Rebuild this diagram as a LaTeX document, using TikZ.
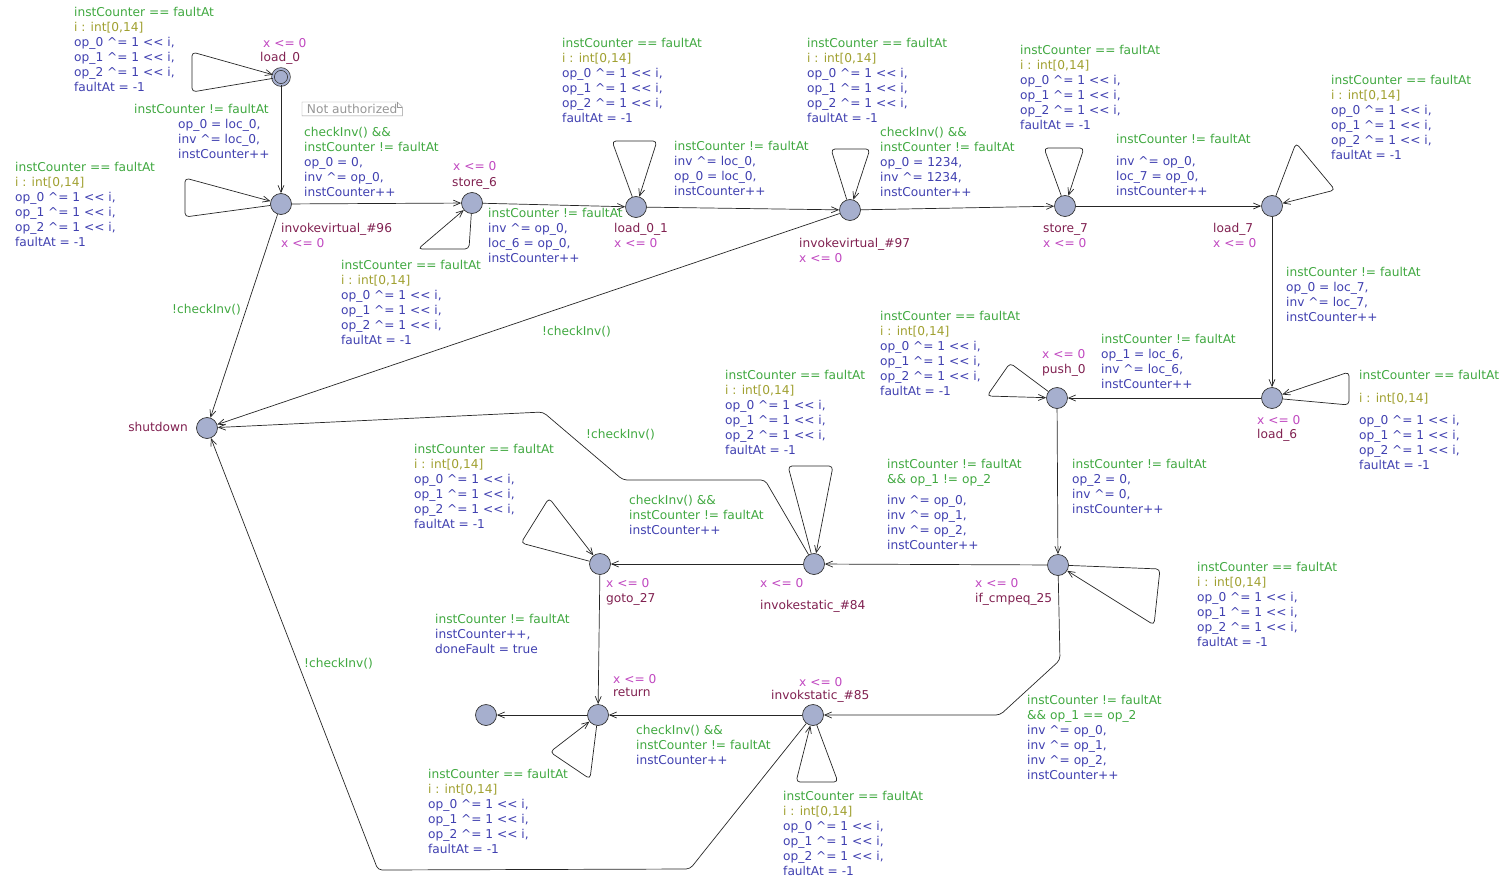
\documentclass[tikz,border=0pt]{standalone}
\usepackage{fontspec}
\setmainfont{DejaVu Sans}
\usetikzlibrary{arrows.meta}
\definecolor{grd}{RGB}{64,168,64}
\definecolor{sel}{RGB}{160,160,48}
\definecolor{upd}{RGB}{64,64,176}
\definecolor{nme}{RGB}{128,32,80}
\definecolor{invc}{RGB}{192,72,192}
\definecolor{locfill}{RGB}{166,175,206}
\definecolor{notegray}{RGB}{150,150,150}
\newcommand{\gd}[1]{\textcolor{grd}{#1}}
\newcommand{\up}[1]{\textcolor{upd}{#1}}
\newcommand{\xo}{\textasciicircum=}
\newcommand{\shl}{<\kern0pt<}
\newcommand{\xlim}{x <= 0}
\newcommand{\injlines}{\gd{instCounter == faultAt}\\\textcolor{sel}{i : int[0,14]}\\%
  \up{op\_0 \xo{} 1 \shl{} i,}\\\up{op\_1 \xo{} 1 \shl{} i,}\\\up{op\_2 \xo{} 1 \shl{} i,}\\\up{faultAt = -1}}
\begin{document}
\begin{tikzpicture}[x=1pt,y=-1pt,
    loc/.style={circle,draw=black!80,fill=locfill,minimum size=21pt,inner sep=0pt,line width=0.7pt},
    initloc/.style={loc,double=locfill,double distance=2pt,minimum size=16pt},
    lbl/.style={inner sep=0pt,anchor=north west,align=left,font=\fontsize{12.2}{15}\selectfont},
    lname/.style={lbl,text=nme},
    linv/.style={lbl,text=invc},
    edge/.style={draw=black!85,line width=0.7pt,rounded corners=4pt,
      -{Straight Barb[length=7pt,width=6pt]}}]
  \useasboundingbox (0,0) rectangle (1510,883);
  % locations
  \node[initloc] (load0) at (281,77) {};
  \node[loc] (inv96) at (281,204) {};
  \node[loc] (store6) at (472,203) {};
  \node[loc] (load01) at (636,207) {};
  \node[loc] (inv97) at (850,210) {};
  \node[loc] (store7) at (1065,206) {};
  \node[loc] (load7) at (1272,206) {};
  \node[loc] (load6) at (1272,398) {};
  \node[loc] (push0) at (1057,398) {};
  \node[loc] (ifcmp) at (1058,565) {};
  \node[loc] (inv84) at (814,564) {};
  \node[loc] (goto27) at (600,564) {};
  \node[loc] (ret) at (598,715) {};
  \node[loc] (fin) at (486,715) {};
  \node[loc] (inv85) at (813,715) {};
  \node[loc] (shutdown) at (207,428) {};
  % names and invariants
  \node[linv] (i-load0) at (263,38) {\xlim};
  \node[lname] (n-load0) at (260,52) {load\_0};
  \node[lname] (n-inv96) at (281,223) {invokevirtual\_\#96};
  \node[linv] (i-inv96) at (281,238) {\xlim};
  \node[linv] (i-store6) at (453,161) {\xlim};
  \node[lname] (n-store6) at (452,177) {store\_6};
  \node[lname] (n-load01) at (614,223) {load\_0\_1};
  \node[linv] (i-load01) at (614,238) {\xlim};
  \node[lname] (n-inv97) at (799,238) {invokevirtual\_\#97};
  \node[linv] (i-inv97) at (799,253) {\xlim};
  \node[lname] (n-store7) at (1043,223) {store\_7};
  \node[linv] (i-store7) at (1043,238) {\xlim};
  \node[lname] (n-load7) at (1213,223) {load\_7};
  \node[linv] (i-load7) at (1213,238) {\xlim};
  \node[linv] (i-load6) at (1257,415) {\xlim};
  \node[lname] (n-load6) at (1257,429) {load\_6};
  \node[linv] (i-push0) at (1042,349) {\xlim};
  \node[lname] (n-push0) at (1042,364) {push\_0};
  \node[linv] (i-ifcmp) at (975,578) {\xlim};
  \node[lname] (n-ifcmp) at (975,593) {if\_cmpeq\_25};
  \node[linv] (i-inv84) at (760,578) {\xlim};
  \node[lname] (n-inv84) at (760,600) {invokestatic\_\#84};
  \node[linv] (i-goto27) at (606,578) {\xlim};
  \node[lname] (n-goto27) at (606,593) {goto\_27};
  \node[linv] (i-ret) at (613,674) {\xlim};
  \node[lname] (n-ret) at (613,688) {return};
  \node[linv] (i-inv85) at (799,677) {\xlim};
  \node[lname] (n-inv85) at (771,690) {invokstatic\_\#85};
  \node[lname,anchor=north east] (n-shutdown) at (188,422) {shutdown};
  % note
  \node[lbl,text=notegray,inner xsep=2pt,inner ysep=2pt,minimum width=100pt] (note) at (302,102) {Not authorized};
  \draw[notegray] (note.south west) -- (note.south east) -- ([yshift=-5pt]note.north east)
    -- ([xshift=-5pt]note.north east) -- (note.north west) -- cycle;
  \draw[notegray] ([xshift=-5pt]note.north east) |- ([yshift=-5pt]note.north east);
  % fault injection loops
  \draw[edge] (load0) -- (192,92) -- (192,52) -- (load0);
  \draw[edge] (inv96) -- (185,217) -- (185,178) -- (inv96);
  \draw[edge] (store6) -- (469,249) -- (418,249) -- (store6);
  \draw[edge] (load01) -- (612,141) -- (657,141) -- (load01);
  \draw[edge] (inv97) -- (831,149) -- (870,149) -- (inv97);
  \draw[edge] (store7) -- (1044,148) -- (1084,148) -- (store7);
  \draw[edge] (load7) -- (1296,143) -- (1335,190) -- (load7);
  \draw[edge] (load6) -- (1349,405) -- (1349,372) -- (load6);
  \draw[edge] (push0) -- (1010,363) -- (987,396) -- (push0);
  \draw[edge] (inv84) -- (788,466) -- (833,466) -- (inv84);
  \draw[edge] (goto27) -- (521,543) -- (549,498) -- (goto27);
  \draw[edge] (ifcmp) -- (1160,569) -- (1154,625) -- (ifcmp);
  \draw[edge] (ret) -- (590,779) -- (550,752) -- (ret);
  \draw[edge] (inv85) -- (838,782) -- (796,782) -- (inv85);
  \node[lbl] (lp-load0) at (74,7) {\injlines};
  \node[lbl] (lp-inv96) at (15,162) {\injlines};
  \node[lbl] (lp-store6) at (341,260) {\injlines};
  \node[lbl] (lp-load01) at (562,38) {\injlines};
  \node[lbl] (lp-inv97) at (807,38) {\injlines};
  \node[lbl] (lp-store7) at (1020,45) {\injlines};
  \node[lbl] (lp-load7) at (1331,75) {\injlines};
  \node[lbl] (lp-load6) at (1359,370) {\gd{instCounter == faultAt}\\[8pt]\textcolor{sel}{i : int[0,14]}\\[7pt]%
    \up{op\_0 \xo{} 1 \shl{} i,}\\\up{op\_1 \xo{} 1 \shl{} i,}\\\up{op\_2 \xo{} 1 \shl{} i,}\\\up{faultAt = -1}};
  \node[lbl] (lp-push0) at (880,311) {\injlines};
  \node[lbl] (lp-inv84) at (725,370) {\injlines};
  \node[lbl] (lp-goto27) at (414,444) {\injlines};
  \node[lbl] (lp-ifcmp) at (1197,562) {\injlines};
  \node[lbl] (lp-ret) at (428,769) {\injlines};
  \node[lbl] (lp-inv85) at (783,791) {\injlines};
  % program transitions
  \draw[edge] (load0) -- (inv96);
  \node[lbl,text=grd] (g-load0) at (134,104) {instCounter != faultAt};
  \node[lbl,text=upd] (u-load0) at (178,119) {op\_0 = loc\_0,\\inv \xo{} loc\_0,\\instCounter++};
  \draw[edge] (inv96) -- (store6);
  \node[lbl] (t-inv96) at (304,127) {\gd{checkInv() \&\&}\\\gd{instCounter != faultAt}\\%
    \up{op\_0 = 0,}\\\up{inv \xo{} op\_0,}\\\up{instCounter++}};
  \draw[edge] (store6) -- (load01);
  \node[lbl] (t-store6) at (488,208) {\gd{instCounter != faultAt}\\\up{inv \xo{} op\_0,}\\%
    \up{loc\_6 = op\_0,}\\\up{instCounter++}};
  \draw[edge] (load01) -- (inv97);
  \node[lbl] (t-load01) at (674,141) {\gd{instCounter != faultAt}\\\up{inv \xo{} loc\_0,}\\%
    \up{op\_0 = loc\_0,}\\\up{instCounter++}};
  \draw[edge] (inv97) -- (store7);
  \node[lbl] (t-inv97) at (880,127) {\gd{checkInv() \&\&}\\\gd{instCounter != faultAt}\\%
    \up{op\_0 = 1234,}\\\up{inv \xo{} 1234,}\\\up{instCounter++}};
  \draw[edge] (store7) -- (load7);
  \node[lbl] (t-store7) at (1116,134) {\gd{instCounter != faultAt}\\[7pt]\up{inv \xo{} op\_0,}\\%
    \up{loc\_7 = op\_0,}\\\up{instCounter++}};
  \draw[edge] (load7) -- (load6);
  \node[lbl] (t-load7) at (1286,267) {\gd{instCounter != faultAt}\\\up{op\_0 = loc\_7,}\\%
    \up{inv \xo{} loc\_7,}\\\up{instCounter++}};
  \draw[edge] (load6) -- (push0);
  \node[lbl] (t-load6) at (1101,334) {\gd{instCounter != faultAt}\\\up{op\_1 = loc\_6,}\\%
    \up{inv \xo{} loc\_6,}\\\up{instCounter++}};
  \draw[edge] (push0) -- (ifcmp);
  \node[lbl] (t-push0) at (1072,459) {\gd{instCounter != faultAt}\\\up{op\_2 = 0,}\\%
    \up{inv \xo{} 0,}\\\up{instCounter++}};
  \draw[edge] (ifcmp) -- (inv84);
  \node[lbl] (t-ifne) at (887,459) {\gd{instCounter != faultAt}\\\gd{\&\& op\_1 != op\_2}\\[6pt]%
    \up{inv \xo{} op\_0,}\\\up{inv \xo{} op\_1,}\\\up{inv \xo{} op\_2,}\\\up{instCounter++}};
  \draw[edge] (ifcmp) -- (1060,660) -- (1000,715) -- (inv85);
  \node[lbl] (t-ifeq) at (1027,695) {\gd{instCounter != faultAt}\\\gd{\&\& op\_1 == op\_2}\\%
    \up{inv \xo{} op\_0,}\\\up{inv \xo{} op\_1,}\\\up{inv \xo{} op\_2,}\\\up{instCounter++}};
  \draw[edge] (inv84) -- (goto27);
  \node[lbl] (t-inv84) at (629,495) {\gd{checkInv() \&\&}\\\gd{instCounter != faultAt}\\\up{instCounter++}};
  \draw[edge] (goto27) -- (ret);
  \node[lbl] (t-goto27) at (435,614) {\gd{instCounter != faultAt}\\\up{instCounter++,}\\\up{doneFault = true}};
  \draw[edge] (inv85) -- (ret);
  \node[lbl] (t-inv85) at (636,725) {\gd{checkInv() \&\&}\\\gd{instCounter != faultAt}\\\up{instCounter++}};
  \draw[edge] (ret) -- (fin);
  % shutdown transitions
  \draw[edge] (inv96) -- (shutdown);
  \node[lbl,text=grd] (s-inv96) at (172,304) {!checkInv()};
  \draw[edge] (inv97) -- (shutdown);
  \node[lbl,text=grd] (s-inv97) at (542,326) {!checkInv()};
  \draw[edge] (inv84) -- (765,480) -- (623,480) -- (543,412) -- (shutdown);
  \node[lbl,text=grd] (s-inv84) at (586,429) {!checkInv()};
  \draw[edge] (inv85) -- (690,869) -- (378,870) -- (shutdown);
  \node[lbl,text=grd] (s-inv85) at (304,658) {!checkInv()};
\end{tikzpicture}
\end{document}
